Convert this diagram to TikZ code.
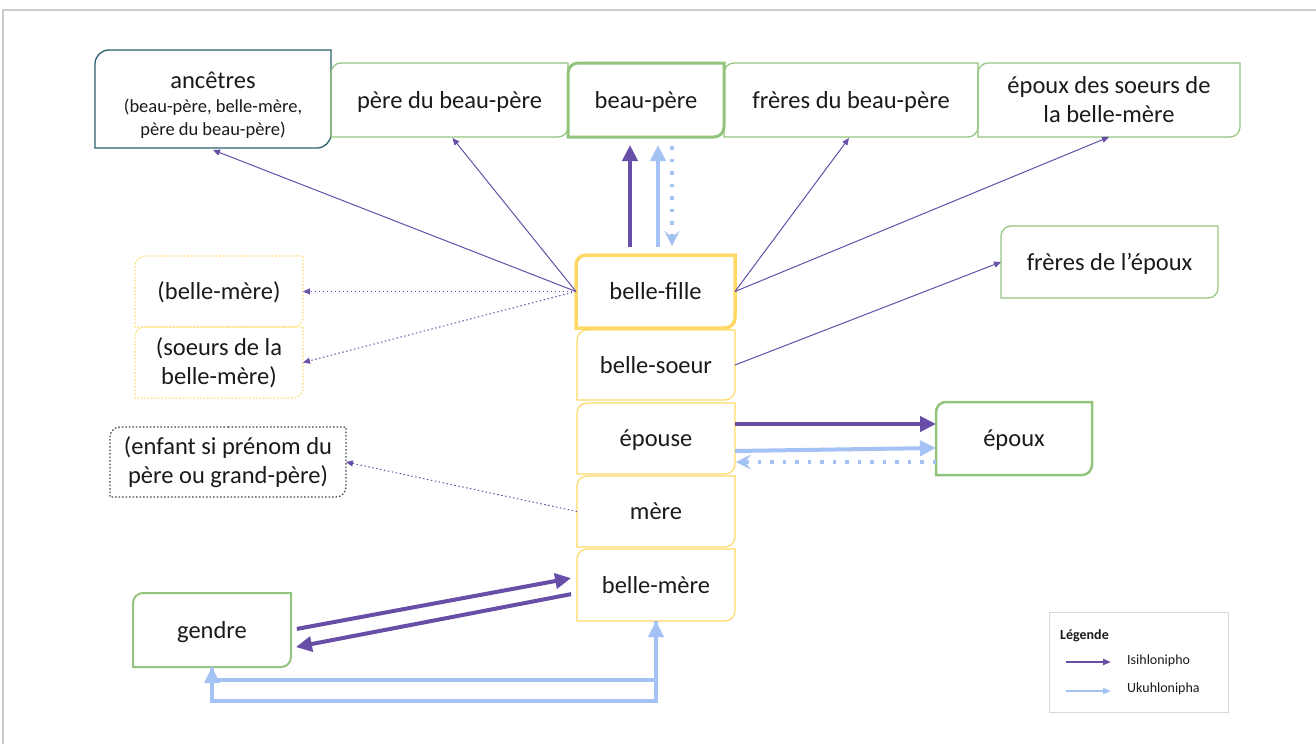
\documentclass[tikz,border=0pt]{standalone}
\usepackage{fontspec}
\setmainfont{Carlito}
\usetikzlibrary{arrows.meta,calc}
\definecolor{purpleC}{HTML}{674EA7}
\definecolor{blueC}{HTML}{A4C2F4}
\definecolor{greenC}{HTML}{93C47D}
\definecolor{yellowC}{HTML}{FFD966}
\definecolor{tealC}{HTML}{2B5F6D}
\definecolor{textC}{HTML}{1A1A1A}
\definecolor{frameC}{HTML}{CCCCCC}
\definecolor{legendC}{HTML}{D9D9D9}
\definecolor{grayC}{HTML}{434343}
\newcommand\tlbrframe[3][10pt]{\draw[#3] (#2.north) [sharp corners] -- (#2.north east) [rounded corners=#1] -- (#2.south east) [sharp corners] -- (#2.south west) [rounded corners=#1] -- (#2.north west) [sharp corners] -- cycle;}
\tikzset{
  box/.style={inner sep=0pt, outer sep=0pt, align=center, font=\fontsize{24.5}{29}\selectfont, text=textC},
  onebox/.style={box, text height=16.5pt, text depth=0.5pt},
  greenthin/.style={draw=greenC, line width=1.2pt},
  yellowthin/.style={draw=yellowC, line width=1.2pt},
  yellowdot/.style={draw=yellowC, line width=1.2pt, dash pattern=on 1.5pt off 2pt},
  thinP/.style={purpleC, line width=1pt, -{Triangle[length=7pt,width=6pt]}},
  dotP/.style={purpleC, line width=1pt, dash pattern=on 1.5pt off 2.5pt, -{Triangle[length=7pt,width=6pt]}},
  thickP/.style={purpleC, line width=4pt, -{Triangle[length=16pt,width=15pt]}},
  thickB/.style={blueC, line width=4pt, -{Triangle[length=16pt,width=15pt]}},
  dotB/.style={blueC, line width=3.5pt, dash pattern=on 3.5pt off 9pt, -{Stealth[length=15pt,width=15pt,inset=6pt]}},
  legtext/.style={anchor=west, inner sep=0pt, text=textC, font=\fontsize{14}{16}\selectfont}
}
\begin{document}
\begin{tikzpicture}[x=1pt,y=-1pt]
\useasboundingbox (0,0) rectangle (1316,744);
\draw[frameC, line width=2pt] (3,744) -- (3,10) -- (1316,10);

% top row
\node[box, minimum width=236pt, minimum height=98pt] (anc) at (213,99) {};
\node[inner sep=0pt, align=center, text=textC, font=\fontsize{24.5}{29}\selectfont, anchor=base] (anct) at (213,88) {ancêtres};
\node[inner sep=0pt, align=center, text=textC, font=\fontsize{18.5}{23}\selectfont, anchor=base] (ancs) at (213,135) {(beau-père, belle-mère,\\père du beau-père)};
\node[onebox, minimum width=237pt, minimum height=74pt] (pbp) at (449.5,100) {père du beau-père};
\node[onebox, minimum width=156pt, minimum height=74pt] (bp) at (646,100) {beau-père};
\node[onebox, minimum width=254pt, minimum height=74pt] (fbp) at (851,100) {frères du beau-père};
\node[box, minimum width=262pt, minimum height=74pt] (eps) at (1109,100) {époux des soeurs de\\la belle-mère};
\node[onebox, minimum width=217pt, minimum height=72pt] (fde) at (1109.5,262) {frères de l’époux};

% left dotted boxes
\node[onebox, minimum width=168pt, minimum height=71pt] (bmd) at (219,291.5) {(belle-mère)};
\node[box, minimum width=168pt, minimum height=71pt] (sbmd) at (219,362.5) {(soeurs de la\\belle-mère)};
\node[box, minimum width=236pt, minimum height=70pt] (enf) at (228,462) {(enfant si prénom du\\père ou grand-père)};

% central column
\node[onebox, minimum width=159pt, minimum height=73pt] (bf) at (655.5,291.5) {belle-fille};
\node[onebox, minimum width=158pt, minimum height=70pt] (bs) at (656,365) {belle-soeur};
\node[onebox, minimum width=158pt, minimum height=71pt] (ep) at (656,438.5) {épouse};
\node[onebox, minimum width=158pt, minimum height=71pt] (mere) at (656,511.5) {mère};
\node[onebox, minimum width=158pt, minimum height=72pt] (bm) at (656,585) {belle-mère};

\node[onebox, minimum width=156pt, minimum height=73pt] (epoux) at (1014,438.5) {époux};
\node[onebox, minimum width=158pt, minimum height=74pt] (gendre) at (212,630) {gendre};

% frames
\tlbrframe[14pt]{anc}{draw=tealC, line width=1.3pt}
\tlbrframe{pbp}{greenthin}
\tlbrframe{bp}{draw=greenC, line width=3pt}
\tlbrframe{fbp}{greenthin}
\tlbrframe{eps}{greenthin}
\tlbrframe{fde}{greenthin}
\tlbrframe{bmd}{yellowdot}
\tlbrframe{sbmd}{yellowdot}
\tlbrframe{enf}{draw=grayC, line width=1.2pt, dash pattern=on 1.5pt off 2pt}
\tlbrframe{bs}{yellowthin}
\tlbrframe{ep}{yellowthin}
\tlbrframe{mere}{yellowthin}
\tlbrframe{bm}{yellowthin}
\tlbrframe{bf}{draw=yellowC, line width=3.5pt}
\tlbrframe{epoux}{draw=greenC, line width=2.5pt}
\tlbrframe{gendre}{draw=greenC, line width=2pt}

% thin arrows from belle-fille
\draw[thinP] (bf.west) -- ([yshift=-2pt]anc.south);
\draw[thinP] (bf.west) -- ([xshift=3pt,yshift=-1pt]pbp.south);
\draw[thinP] (bf.east) -- ([xshift=-2pt,yshift=-1pt]fbp.south);
\draw[thinP] (bf.east) -- (eps.south);
\draw[thinP] (bs.east) -- (fde.west);
\draw[dotP] (bf.west) -- (bmd.east);
\draw[dotP] (bf.west) -- (sbmd.east);
\draw[dotP] (mere.west) -- (enf.east);

% thick arrows belle-fille / beau-pere
\draw[thickP, shorten <=8pt, shorten >=8pt] ([xshift=-25.5pt]bf.north) -- ([xshift=-16pt]bp.south);
\draw[thickB, shorten <=8pt, shorten >=8pt] ([xshift=2.5pt]bf.north) -- ([xshift=12pt]bp.south);
\draw[dotB, shorten <=9pt, shorten >=9pt] ([xshift=26pt]bp.south) -- ([xshift=16.5pt]bf.north);

% epouse / epoux
\draw[thickP] ([yshift=14.5pt]ep.east) -- ([yshift=14.5pt]epoux.west);
\draw[thickB] ([yshift=-12.5pt]ep.east) -- ([yshift=-9.5pt]epoux.west);
\draw[dotB, shorten >=1pt] ([yshift=-23.5pt]epoux.west) -- ([yshift=-23.5pt]ep.east);

% gendre / belle-mere
\draw[thickP, shorten <=6pt, shorten >=6pt] (gendre.east) -- ([yshift=8pt]bm.west);
\draw[thickP, shorten <=6pt, shorten >=5pt] ([yshift=-8pt]bm.west) -- ([yshift=-18pt]gendre.east);
\draw[thickB] (gendre.south) -- ++(0,34) -| (bm.south);
\draw[thickB] (bm.south) -- ++(0,59) -| (gendre.south);

% legend
\node[draw=legendC, line width=1pt, inner sep=0pt, minimum width=179pt, minimum height=100pt] (leg) at (1138.5,662) {};
\node[anchor=west, inner sep=0pt, text=textC, font=\bfseries\fontsize{14}{16}\selectfont] (legt) at (1060,636) {Légende};
\coordinate (l1a) at (1066,662);
\coordinate (l1b) at (1111,662);
\coordinate (l2a) at (1066,691);
\coordinate (l2b) at (1111,691);
\draw[purpleC, line width=2pt, -{Triangle[length=8pt,width=6pt]}] (l1a) -- (l1b);
\draw[blueC, line width=2pt, -{Triangle[length=8pt,width=6pt]}] (l2a) -- (l2b);
\node[legtext] (l1t) at (1127,661) {Isihlonipho};
\node[legtext] (l2t) at (1127,689) {Ukuhlonipha};
\end{tikzpicture}
\end{document}
